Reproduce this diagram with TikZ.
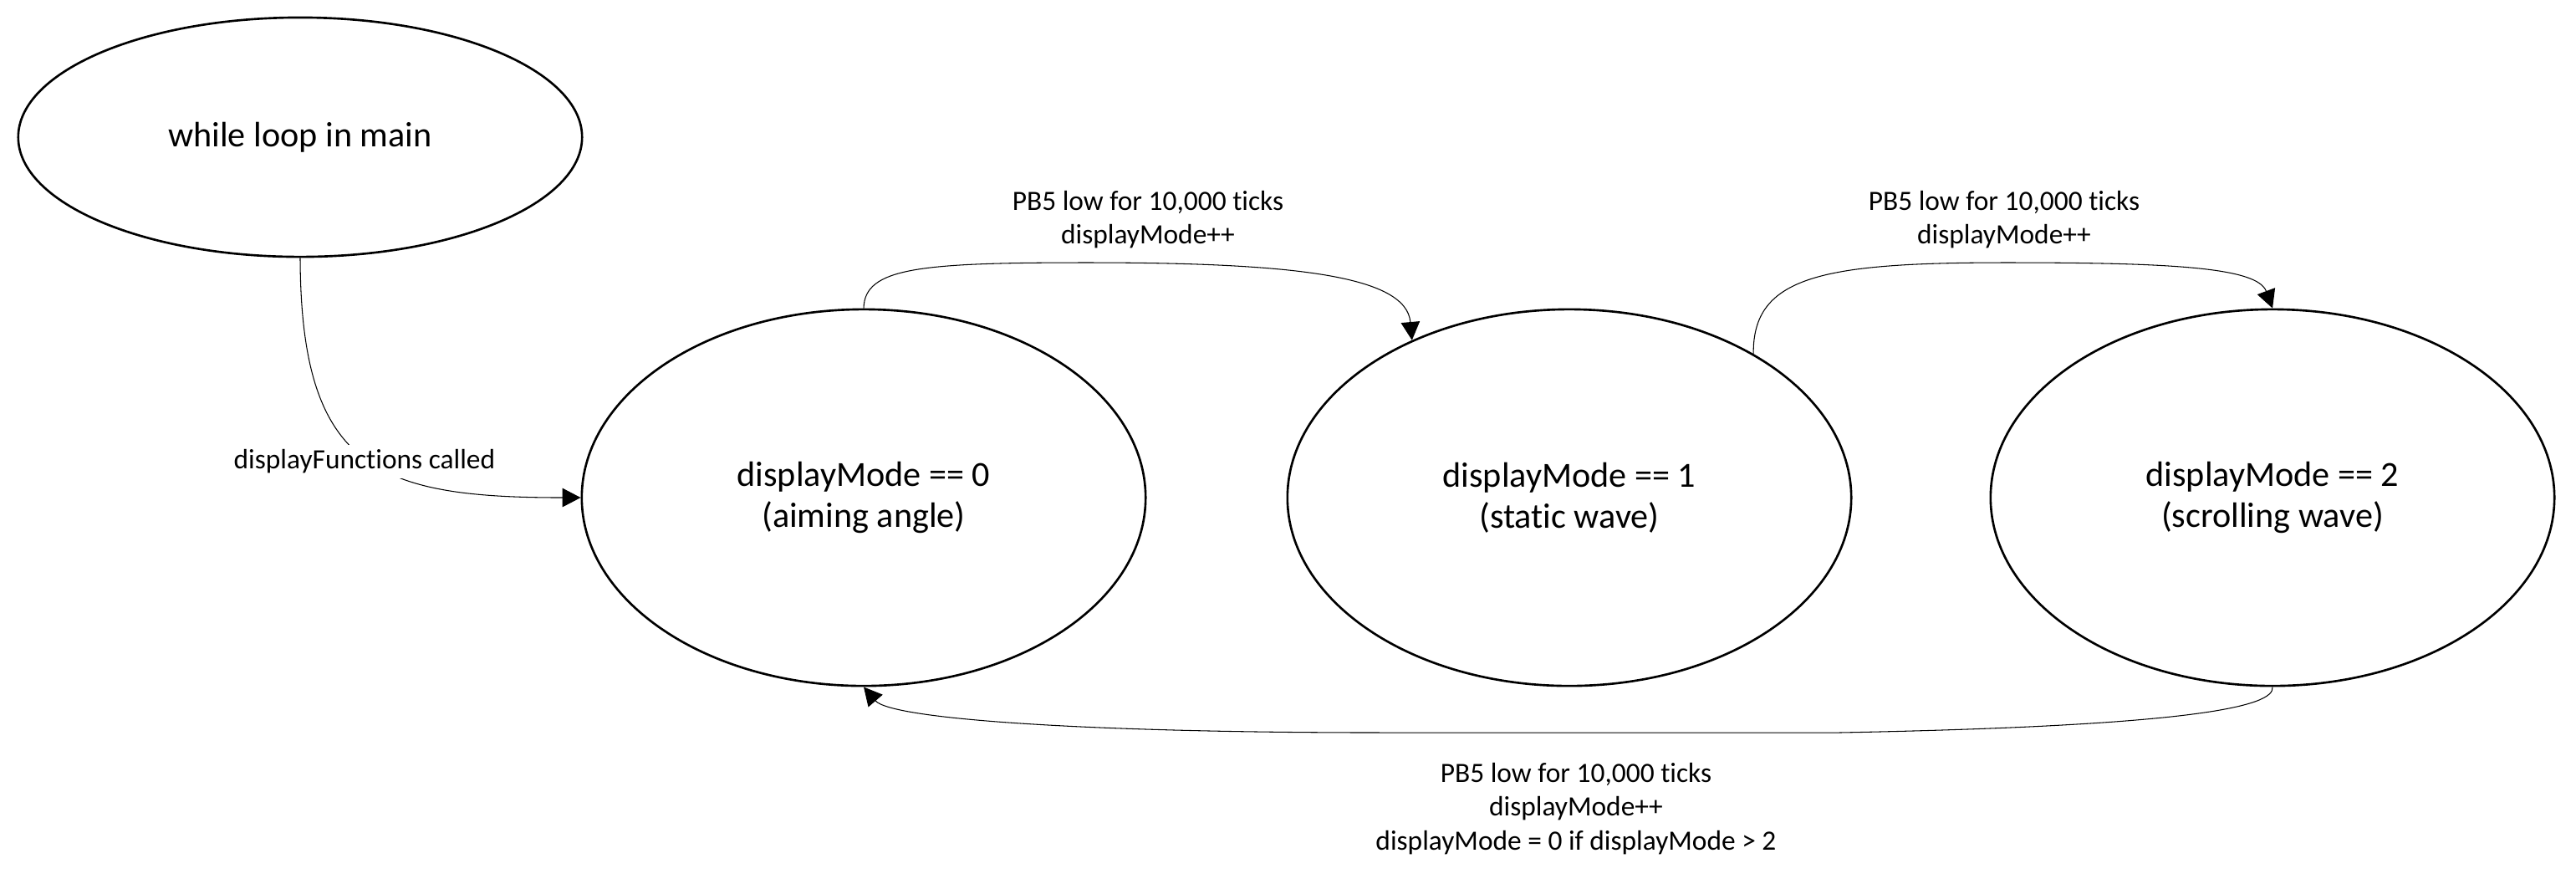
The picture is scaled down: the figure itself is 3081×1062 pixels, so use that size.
\documentclass[tikz,border=0pt]{standalone}
\usepackage{fontspec}
\setmainfont{Carlito}[Ligatures={CommonOff,ContextualOff}]
\usetikzlibrary{shapes.geometric,arrows.meta}
\newcommand\tiNL{t\kern0pt i}
\begin{document}
\begin{tikzpicture}[x=0.01cm,y=-0.01cm,
  state/.style={ellipse,draw,line width=0.75pt,inner sep=0pt,minimum width=6.74cm,minimum height=4.5cm,align=center,font=\fontsize{12}{14}\selectfont},
  conn/.style={line width=0.3pt,-{Triangle[length=6.2pt,width=6.4pt]}},
  lbl/.style={align=center,inner sep=1.5pt,font=\fontsize{9.5}{11.4}\selectfont}]
\useasboundingbox (0,0) rectangle (3081,1062);
\node[state,minimum height=2.86cm] (w) at (359,164) {while loop in main};
\node[state] (e0) at (1033,595) {displayMode == 0\\(aiming angle)};
\node[state] (e1) at (1877,595) {displayMode == 1\\(static wave)};
\node[state] (e2) at (2718,595) {displayMode == 2\\(scrolling wave)};

% edge 1
\draw[conn] (e0.north) .. controls (1034,320) and (1100,314) .. (1300,314)
  .. controls (1550,314) and (1682,330) .. (e1.135);
\node[lbl] (l1) at (1373,263) {PB5 low for 10,000 \tiNL cks\\displayMode++};
% edge 2
\draw[conn] (e1.38) .. controls (2096,330) and (2180,314) .. (2400,314)
  .. controls (2600,314) and (2700,320) .. (e2.north);
\node[lbl] (l2) at (2397,263) {PB5 low for 10,000 \tiNL cks\\displayMode++};
% edge 3
\draw[conn] (e2.south) .. controls (2721,845) and (2620,868) .. (2200,876)
  -- (1650,876) .. controls (1300,876) and (1066,860) .. (e0.south);
\node[lbl] (l3) at (1885,967) {PB5 low for 10,000 \tiNL cks\\displayMode++\\displayMode = 0 if displayMode > 2};
% edge 4
\draw[conn] (w.south) .. controls (360,560) and (450,595) .. (e0.west);
\node[lbl,fill=white] (l4) at (436,552) {displayFunc\tiNL ons called};
\end{tikzpicture}
\end{document}
